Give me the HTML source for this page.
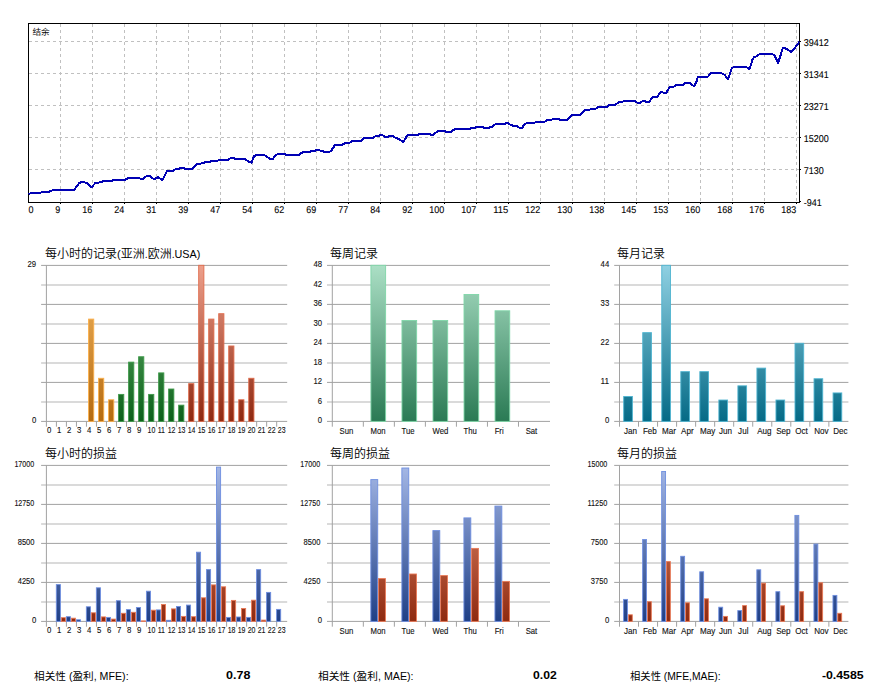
<!DOCTYPE html>
<html lang="zh"><head><meta charset="utf-8"><title>Report</title>
<style>html,body{margin:0;padding:0;background:#fff;}body{width:882px;height:692px;overflow:hidden;}svg{display:block;}</style>
</head><body>
<svg width="882" height="692" viewBox="0 0 882 692">
<rect width="882" height="692" fill="#fff"/>
<defs>
<linearGradient id="gOr" gradientUnits="userSpaceOnUse" x1="0" y1="265.4" x2="0" y2="421.4"><stop offset="0" stop-color="#f5b963"/><stop offset="1" stop-color="#b46a10"/></linearGradient>
<linearGradient id="gGr" gradientUnits="userSpaceOnUse" x1="0" y1="265.4" x2="0" y2="421.4"><stop offset="0" stop-color="#74c07a"/><stop offset="1" stop-color="#0c5f1a"/></linearGradient>
<linearGradient id="gRd" gradientUnits="userSpaceOnUse" x1="0" y1="265.4" x2="0" y2="421.4"><stop offset="0" stop-color="#eda08c"/><stop offset="1" stop-color="#8e2810"/></linearGradient>
<linearGradient id="gWk" gradientUnits="userSpaceOnUse" x1="0" y1="265.4" x2="0" y2="421.4"><stop offset="0" stop-color="#abdfc5"/><stop offset="1" stop-color="#2a7a54"/></linearGradient>
<linearGradient id="gMo" gradientUnits="userSpaceOnUse" x1="0" y1="265.4" x2="0" y2="421.4"><stop offset="0" stop-color="#8fd0e2"/><stop offset="1" stop-color="#056a86"/></linearGradient>
<linearGradient id="gBl" gradientUnits="userSpaceOnUse" x1="0" y1="465.4" x2="0" y2="621.4"><stop offset="0" stop-color="#a5b8e6"/><stop offset="1" stop-color="#1f3f86"/></linearGradient>
<linearGradient id="gLs" gradientUnits="userSpaceOnUse" x1="0" y1="465.4" x2="0" y2="621.4"><stop offset="0" stop-color="#f09a7c"/><stop offset="1" stop-color="#8e2a10"/></linearGradient>
</defs>
<g shape-rendering="crispEdges">
<path d="M60.5 24V202M92.5 24V202M124.5 24V202M156.5 24V202M188.5 24V202M220.5 24V202M252.5 24V202M284.5 24V202M316.5 24V202M348.5 24V202M380.5 24V202M412.5 24V202M444.5 24V202M476.5 24V202M508.5 24V202M540.5 24V202M572.5 24V202M604.5 24V202M636.5 24V202M668.5 24V202M700.5 24V202M732.5 24V202M764.5 24V202M796.5 24V202" stroke="#c0c0c0" stroke-width="1" stroke-dasharray="3 3" fill="none"/>
<path d="M29 41.5H799M29 73.5H799M29 105.5H799M29 137.5H799M29 169.5H799" stroke="#c0c0c0" stroke-width="1" stroke-dasharray="3 3" fill="none"/>
<rect x="28.5" y="23.5" width="771" height="179" fill="none" stroke="#000" stroke-width="1"/>
<path d="M60.5 203v1M92.5 203v1M124.5 203v1M156.5 203v1M188.5 203v1M220.5 203v1M252.5 203v1M284.5 203v1M316.5 203v1M348.5 203v1M380.5 203v1M412.5 203v1M444.5 203v1M476.5 203v1M508.5 203v1M540.5 203v1M572.5 203v1M604.5 203v1M636.5 203v1M668.5 203v1M700.5 203v1M732.5 203v1M764.5 203v1M796.5 203v1M800 41.5h1M800 73.5h1M800 105.5h1M800 137.5h1M800 169.5h1M800 201.5h1" stroke="#000" stroke-width="1" fill="none"/>
</g>
<polyline points="28.4,193.9 33.0,193.0 40.5,192.8 41.8,192.0 49.3,191.6 50.5,190.9 53.6,190.1 74.2,190.0 79.2,183.0 81.7,182.0 84.2,182.2 87.3,183.4 91.6,187.2 95.4,183.0 99.8,182.4 103.7,181.1 111.8,180.8 113.1,180.1 124.9,180.0 128.0,178.1 139.3,178.0 140.5,179.0 143.0,179.0 144.9,177.0 147.4,176.0 149.9,176.1 153.6,178.9 155.5,178.6 158.0,177.1 162.3,180.2 166.7,171.4 168.6,170.9 172.9,170.9 176.0,169.0 178.5,168.8 181.0,168.0 183.5,168.0 185.4,169.0 192.3,169.0 196.6,164.3 198.5,163.8 202.5,163.3 205.6,162.1 210.0,161.8 211.2,161.0 217.5,161.0 218.7,160.1 228.0,160.0 230.5,158.2 233.7,158.1 234.9,159.0 244.9,159.0 249.3,162.0 251.4,162.7 254.2,156.1 256.7,154.9 264.2,154.9 267.3,157.1 270.4,159.0 272.9,158.9 275.4,155.1 277.9,154.0 284.8,154.0 286.0,154.9 299.1,154.9 301.0,153.0 304.1,152.0 310.0,151.8 311.2,151.0 315.0,150.7 316.2,150.0 319.3,150.0 320.6,150.8 323.1,151.1 324.3,152.0 329.3,152.0 331.2,150.8 334.9,145.1 341.8,145.0 343.6,143.9 345.5,143.0 349.3,142.9 352.4,141.0 361.1,140.9 364.2,138.2 372.9,138.0 375.4,136.1 378.6,135.9 380.4,134.9 382.3,135.1 384.8,136.7 387.9,136.9 389.2,135.9 392.3,136.0 395.4,137.6 398.5,139.0 403.5,142.0 406.9,135.7 408.7,135.0 418.1,135.0 419.3,134.0 429.9,134.0 431.2,134.8 433.0,134.8 434.9,133.0 438.7,131.0 444.9,131.0 446.1,132.0 451.1,132.0 453.0,130.1 455.5,129.0 469.8,129.0 471.1,128.0 474.8,127.9 476.7,127.0 482.9,127.0 484.2,127.9 489.2,127.9 490.4,127.1 492.3,126.9 494.1,124.9 496.0,124.0 505.0,124.0 506.2,123.0 508.1,123.1 510.6,124.8 513.7,125.9 516.8,126.2 520.0,127.9 522.4,127.9 524.3,124.2 526.8,123.0 534.3,123.0 536.2,122.0 544.3,122.0 546.8,120.0 551.1,119.8 553.0,119.0 558.6,119.0 559.9,119.8 567.3,119.8 571.7,115.1 579.8,115.0 584.8,109.9 589.2,109.9 591.0,108.9 595.4,108.9 597.9,107.0 606.9,106.9 608.7,105.0 615.0,105.0 616.8,103.8 618.7,102.1 622.4,102.0 623.7,101.0 634.9,101.0 637.4,102.8 639.9,103.0 642.4,101.1 644.9,101.0 646.1,102.0 649.3,102.0 652.4,97.0 657.4,97.0 660.5,92.0 662.3,92.1 663.6,93.0 666.1,93.0 669.8,87.1 673.6,86.7 676.1,85.0 682.9,85.0 685.4,83.0 690.4,83.0 692.3,85.1 694.1,86.0 696.0,83.0 697.9,77.0 707.5,77.0 711.2,73.0 721.2,73.0 724.3,74.6 728.1,79.0 731.8,68.2 734.3,67.0 746.1,67.0 749.3,68.9 751.0,65.0 752.4,59.5 754.0,57.3 756.5,56.2 759.9,54.0 772.3,54.0 774.4,55.3 778.2,62.8 782.9,48.0 784.8,48.0 791.6,52.0 799.5,41.8" fill="none" stroke="#0000b4" stroke-width="2" stroke-linejoin="round" shape-rendering="crispEdges"/>
<g font-family='"Liberation Sans", "Noto Sans CJK SC", sans-serif' text-rendering="geometricPrecision">
<text x="28.6" y="213" font-size="9.8" textLength="5" lengthAdjust="spacingAndGlyphs" fill="#000" stroke="#000" stroke-width="0.1">0</text>
<text x="60.3" y="213" font-size="9.8" text-anchor="end" textLength="5" lengthAdjust="spacingAndGlyphs" fill="#000" stroke="#000" stroke-width="0.1">9</text>
<text x="92.3" y="213" font-size="9.8" text-anchor="end" textLength="10" lengthAdjust="spacingAndGlyphs" fill="#000" stroke="#000" stroke-width="0.1">16</text>
<text x="124.3" y="213" font-size="9.8" text-anchor="end" textLength="10" lengthAdjust="spacingAndGlyphs" fill="#000" stroke="#000" stroke-width="0.1">24</text>
<text x="156.3" y="213" font-size="9.8" text-anchor="end" textLength="10" lengthAdjust="spacingAndGlyphs" fill="#000" stroke="#000" stroke-width="0.1">31</text>
<text x="188.3" y="213" font-size="9.8" text-anchor="end" textLength="10" lengthAdjust="spacingAndGlyphs" fill="#000" stroke="#000" stroke-width="0.1">39</text>
<text x="220.3" y="213" font-size="9.8" text-anchor="end" textLength="10" lengthAdjust="spacingAndGlyphs" fill="#000" stroke="#000" stroke-width="0.1">47</text>
<text x="252.3" y="213" font-size="9.8" text-anchor="end" textLength="10" lengthAdjust="spacingAndGlyphs" fill="#000" stroke="#000" stroke-width="0.1">54</text>
<text x="284.3" y="213" font-size="9.8" text-anchor="end" textLength="10" lengthAdjust="spacingAndGlyphs" fill="#000" stroke="#000" stroke-width="0.1">62</text>
<text x="316.3" y="213" font-size="9.8" text-anchor="end" textLength="10" lengthAdjust="spacingAndGlyphs" fill="#000" stroke="#000" stroke-width="0.1">69</text>
<text x="348.3" y="213" font-size="9.8" text-anchor="end" textLength="10" lengthAdjust="spacingAndGlyphs" fill="#000" stroke="#000" stroke-width="0.1">77</text>
<text x="380.3" y="213" font-size="9.8" text-anchor="end" textLength="10" lengthAdjust="spacingAndGlyphs" fill="#000" stroke="#000" stroke-width="0.1">84</text>
<text x="412.3" y="213" font-size="9.8" text-anchor="end" textLength="10" lengthAdjust="spacingAndGlyphs" fill="#000" stroke="#000" stroke-width="0.1">92</text>
<text x="444.3" y="213" font-size="9.8" text-anchor="end" textLength="15" lengthAdjust="spacingAndGlyphs" fill="#000" stroke="#000" stroke-width="0.1">100</text>
<text x="476.3" y="213" font-size="9.8" text-anchor="end" textLength="15" lengthAdjust="spacingAndGlyphs" fill="#000" stroke="#000" stroke-width="0.1">107</text>
<text x="508.3" y="213" font-size="9.8" text-anchor="end" textLength="15" lengthAdjust="spacingAndGlyphs" fill="#000" stroke="#000" stroke-width="0.1">115</text>
<text x="540.3" y="213" font-size="9.8" text-anchor="end" textLength="15" lengthAdjust="spacingAndGlyphs" fill="#000" stroke="#000" stroke-width="0.1">122</text>
<text x="572.3" y="213" font-size="9.8" text-anchor="end" textLength="15" lengthAdjust="spacingAndGlyphs" fill="#000" stroke="#000" stroke-width="0.1">130</text>
<text x="604.3" y="213" font-size="9.8" text-anchor="end" textLength="15" lengthAdjust="spacingAndGlyphs" fill="#000" stroke="#000" stroke-width="0.1">138</text>
<text x="636.3" y="213" font-size="9.8" text-anchor="end" textLength="15" lengthAdjust="spacingAndGlyphs" fill="#000" stroke="#000" stroke-width="0.1">145</text>
<text x="668.3" y="213" font-size="9.8" text-anchor="end" textLength="15" lengthAdjust="spacingAndGlyphs" fill="#000" stroke="#000" stroke-width="0.1">153</text>
<text x="700.3" y="213" font-size="9.8" text-anchor="end" textLength="15" lengthAdjust="spacingAndGlyphs" fill="#000" stroke="#000" stroke-width="0.1">160</text>
<text x="732.3" y="213" font-size="9.8" text-anchor="end" textLength="15" lengthAdjust="spacingAndGlyphs" fill="#000" stroke="#000" stroke-width="0.1">168</text>
<text x="764.3" y="213" font-size="9.8" text-anchor="end" textLength="15" lengthAdjust="spacingAndGlyphs" fill="#000" stroke="#000" stroke-width="0.1">176</text>
<text x="796.3" y="213" font-size="9.8" text-anchor="end" textLength="15" lengthAdjust="spacingAndGlyphs" fill="#000" stroke="#000" stroke-width="0.1">183</text>
<text x="803.8" y="46" font-size="9.9" textLength="25" lengthAdjust="spacingAndGlyphs" fill="#000" stroke="#000" stroke-width="0.1">39412</text>
<text x="803.8" y="78" font-size="9.9" textLength="25" lengthAdjust="spacingAndGlyphs" fill="#000" stroke="#000" stroke-width="0.1">31341</text>
<text x="803.8" y="110" font-size="9.9" textLength="25" lengthAdjust="spacingAndGlyphs" fill="#000" stroke="#000" stroke-width="0.1">23271</text>
<text x="803.8" y="142" font-size="9.9" textLength="25" lengthAdjust="spacingAndGlyphs" fill="#000" stroke="#000" stroke-width="0.1">15200</text>
<text x="803.8" y="174" font-size="9.9" textLength="20" lengthAdjust="spacingAndGlyphs" fill="#000" stroke="#000" stroke-width="0.1">7130</text>
<text x="803.8" y="206" font-size="9.9" textLength="18" lengthAdjust="spacingAndGlyphs" fill="#000" stroke="#000" stroke-width="0.1">-941</text>
<text x="32.5" y="35.3" font-size="8.6" fill="#000">结余</text>
</g>
<g font-family='"Liberation Sans", "Noto Sans CJK SC", sans-serif'>
<path d="M41.10 265.40H287.20" stroke="#a2a2a2" stroke-width="1.0"/>
<path d="M41.10 284.90H287.20" stroke="#cecece" stroke-width="1.5"/>
<path d="M41.10 304.40H287.20" stroke="#a2a2a2" stroke-width="1.0"/>
<path d="M41.10 323.90H287.20" stroke="#cecece" stroke-width="1.5"/>
<path d="M41.10 343.40H287.20" stroke="#a2a2a2" stroke-width="1.0"/>
<path d="M41.10 362.90H287.20" stroke="#cecece" stroke-width="1.5"/>
<path d="M41.10 382.40H287.20" stroke="#a2a2a2" stroke-width="1.0"/>
<path d="M41.10 401.90H287.20" stroke="#cecece" stroke-width="1.5"/>
<path d="M41.10 421.40H287.20" stroke="#a2a2a2" stroke-width="1.0"/>
<path d="M46.40 265.40V426.70" stroke="#a2a2a2" stroke-width="1"/>
<path d="M56.41 421.40v5.3M66.42 421.40v5.3M76.44 421.40v5.3M86.45 421.40v5.3M96.46 421.40v5.3M106.47 421.40v5.3M116.49 421.40v5.3M126.50 421.40v5.3M136.51 421.40v5.3M146.53 421.40v5.3M156.54 421.40v5.3M166.55 421.40v5.3M176.56 421.40v5.3M186.57 421.40v5.3M196.59 421.40v5.3M206.60 421.40v5.3M216.61 421.40v5.3M226.62 421.40v5.3M236.64 421.40v5.3M246.65 421.40v5.3M256.66 421.40v5.3M266.67 421.40v5.3M276.69 421.40v5.3" stroke="#a2a2a2" stroke-width="1"/>
<text transform="translate(36.20 423.30) scale(0.88 1)" font-size="8.8" text-anchor="end" fill="#111" stroke="#111" stroke-width="0.12">0</text>
<text x="36.10" y="267.30" font-size="8.8" text-anchor="end" textLength="8.6" lengthAdjust="spacingAndGlyphs" fill="#111" stroke="#111" stroke-width="0.12">29</text>
<text transform="translate(47.00 433.30) scale(0.88 1)" font-size="8.8" text-anchor="start" fill="#111" stroke="#111" stroke-width="0.12">0</text>
<text transform="translate(57.01 433.30) scale(0.88 1)" font-size="8.8" text-anchor="start" fill="#111" stroke="#111" stroke-width="0.12">1</text>
<text transform="translate(67.02 433.30) scale(0.88 1)" font-size="8.8" text-anchor="start" fill="#111" stroke="#111" stroke-width="0.12">2</text>
<text transform="translate(77.04 433.30) scale(0.88 1)" font-size="8.8" text-anchor="start" fill="#111" stroke="#111" stroke-width="0.12">3</text>
<text transform="translate(87.05 433.30) scale(0.88 1)" font-size="8.8" text-anchor="start" fill="#111" stroke="#111" stroke-width="0.12">4</text>
<text transform="translate(97.06 433.30) scale(0.88 1)" font-size="8.8" text-anchor="start" fill="#111" stroke="#111" stroke-width="0.12">5</text>
<text transform="translate(107.07 433.30) scale(0.88 1)" font-size="8.8" text-anchor="start" fill="#111" stroke="#111" stroke-width="0.12">6</text>
<text transform="translate(117.09 433.30) scale(0.88 1)" font-size="8.8" text-anchor="start" fill="#111" stroke="#111" stroke-width="0.12">7</text>
<text transform="translate(127.10 433.30) scale(0.88 1)" font-size="8.8" text-anchor="start" fill="#111" stroke="#111" stroke-width="0.12">8</text>
<text transform="translate(137.11 433.30) scale(0.88 1)" font-size="8.8" text-anchor="start" fill="#111" stroke="#111" stroke-width="0.12">9</text>
<text transform="translate(147.62 433.30) scale(0.79 1)" font-size="8.8" text-anchor="start" fill="#111" stroke="#111" stroke-width="0.12">10</text>
<text transform="translate(157.64 433.30) scale(0.79 1)" font-size="8.8" text-anchor="start" fill="#111" stroke="#111" stroke-width="0.12">11</text>
<text transform="translate(167.65 433.30) scale(0.79 1)" font-size="8.8" text-anchor="start" fill="#111" stroke="#111" stroke-width="0.12">12</text>
<text transform="translate(177.66 433.30) scale(0.79 1)" font-size="8.8" text-anchor="start" fill="#111" stroke="#111" stroke-width="0.12">13</text>
<text transform="translate(187.67 433.30) scale(0.79 1)" font-size="8.8" text-anchor="start" fill="#111" stroke="#111" stroke-width="0.12">14</text>
<text transform="translate(197.69 433.30) scale(0.79 1)" font-size="8.8" text-anchor="start" fill="#111" stroke="#111" stroke-width="0.12">15</text>
<text transform="translate(207.70 433.30) scale(0.79 1)" font-size="8.8" text-anchor="start" fill="#111" stroke="#111" stroke-width="0.12">16</text>
<text transform="translate(217.71 433.30) scale(0.79 1)" font-size="8.8" text-anchor="start" fill="#111" stroke="#111" stroke-width="0.12">17</text>
<text transform="translate(227.72 433.30) scale(0.79 1)" font-size="8.8" text-anchor="start" fill="#111" stroke="#111" stroke-width="0.12">18</text>
<text transform="translate(237.74 433.30) scale(0.79 1)" font-size="8.8" text-anchor="start" fill="#111" stroke="#111" stroke-width="0.12">19</text>
<text transform="translate(247.75 433.30) scale(0.79 1)" font-size="8.8" text-anchor="start" fill="#111" stroke="#111" stroke-width="0.12">20</text>
<text transform="translate(257.76 433.30) scale(0.79 1)" font-size="8.8" text-anchor="start" fill="#111" stroke="#111" stroke-width="0.12">21</text>
<text transform="translate(267.77 433.30) scale(0.79 1)" font-size="8.8" text-anchor="start" fill="#111" stroke="#111" stroke-width="0.12">22</text>
<text transform="translate(277.79 433.30) scale(0.79 1)" font-size="8.8" text-anchor="start" fill="#111" stroke="#111" stroke-width="0.12">23</text>
<text x="45" y="258.4" font-size="12" font-weight="350" fill="#000">每小时的记录<tspan font-size="11">(</tspan>亚洲<tspan font-size="10.5">.</tspan>欧洲<tspan font-size="10.5">.</tspan><tspan font-size="10.8">USA)</tspan></text>
<rect x="88.55" y="319.09" width="5.20" height="102.31" fill="url(#gOr)" stroke="#fbb04c" stroke-width="0.9"/>
<rect x="98.56" y="378.27" width="5.20" height="43.13" fill="url(#gOr)" stroke="#fbb04c" stroke-width="0.9"/>
<rect x="108.58" y="399.78" width="5.20" height="21.62" fill="url(#gOr)" stroke="#fbb04c" stroke-width="0.9"/>
<rect x="118.59" y="394.40" width="5.20" height="27.00" fill="url(#gGr)" stroke="#3f9a4a" stroke-width="0.9"/>
<rect x="128.60" y="362.13" width="5.20" height="59.27" fill="url(#gGr)" stroke="#3f9a4a" stroke-width="0.9"/>
<rect x="138.61" y="356.75" width="5.20" height="64.65" fill="url(#gGr)" stroke="#3f9a4a" stroke-width="0.9"/>
<rect x="148.62" y="394.40" width="5.20" height="27.00" fill="url(#gGr)" stroke="#3f9a4a" stroke-width="0.9"/>
<rect x="158.64" y="372.89" width="5.20" height="48.51" fill="url(#gGr)" stroke="#3f9a4a" stroke-width="0.9"/>
<rect x="168.65" y="389.02" width="5.20" height="32.38" fill="url(#gGr)" stroke="#3f9a4a" stroke-width="0.9"/>
<rect x="178.66" y="405.16" width="5.20" height="16.24" fill="url(#gGr)" stroke="#3f9a4a" stroke-width="0.9"/>
<rect x="188.67" y="383.64" width="5.20" height="37.76" fill="url(#gRd)" stroke="#e06c4c" stroke-width="0.9"/>
<rect x="198.69" y="265.30" width="5.20" height="156.10" fill="url(#gRd)" stroke="#e06c4c" stroke-width="0.9"/>
<rect x="208.70" y="319.09" width="5.20" height="102.31" fill="url(#gRd)" stroke="#e06c4c" stroke-width="0.9"/>
<rect x="218.71" y="313.71" width="5.20" height="107.69" fill="url(#gRd)" stroke="#e06c4c" stroke-width="0.9"/>
<rect x="228.72" y="345.99" width="5.20" height="75.41" fill="url(#gRd)" stroke="#e06c4c" stroke-width="0.9"/>
<rect x="238.74" y="399.78" width="5.20" height="21.62" fill="url(#gRd)" stroke="#e06c4c" stroke-width="0.9"/>
<rect x="248.75" y="378.27" width="5.20" height="43.13" fill="url(#gRd)" stroke="#e06c4c" stroke-width="0.9"/>
<path d="M327.00 265.40H550.00" stroke="#a2a2a2" stroke-width="1.0"/>
<path d="M327.00 284.90H550.00" stroke="#cecece" stroke-width="1.5"/>
<path d="M327.00 304.40H550.00" stroke="#a2a2a2" stroke-width="1.0"/>
<path d="M327.00 323.90H550.00" stroke="#cecece" stroke-width="1.5"/>
<path d="M327.00 343.40H550.00" stroke="#a2a2a2" stroke-width="1.0"/>
<path d="M327.00 362.90H550.00" stroke="#cecece" stroke-width="1.5"/>
<path d="M327.00 382.40H550.00" stroke="#a2a2a2" stroke-width="1.0"/>
<path d="M327.00 401.90H550.00" stroke="#cecece" stroke-width="1.5"/>
<path d="M327.00 421.40H550.00" stroke="#a2a2a2" stroke-width="1.0"/>
<path d="M332.30 265.40V426.70" stroke="#a2a2a2" stroke-width="1"/>
<path d="M363.33 421.40v5.3M394.36 421.40v5.3M425.39 421.40v5.3M456.41 421.40v5.3M487.44 421.40v5.3M518.47 421.40v5.3" stroke="#a2a2a2" stroke-width="1"/>
<text transform="translate(322.10 423.30) scale(0.88 1)" font-size="8.8" text-anchor="end" fill="#111" stroke="#111" stroke-width="0.12">0</text>
<text transform="translate(322.10 403.80) scale(0.88 1)" font-size="8.8" text-anchor="end" fill="#111" stroke="#111" stroke-width="0.12">6</text>
<text x="322.00" y="384.30" font-size="8.8" text-anchor="end" textLength="8.6" lengthAdjust="spacingAndGlyphs" fill="#111" stroke="#111" stroke-width="0.12">12</text>
<text x="322.00" y="364.80" font-size="8.8" text-anchor="end" textLength="8.6" lengthAdjust="spacingAndGlyphs" fill="#111" stroke="#111" stroke-width="0.12">18</text>
<text x="322.00" y="345.30" font-size="8.8" text-anchor="end" textLength="8.6" lengthAdjust="spacingAndGlyphs" fill="#111" stroke="#111" stroke-width="0.12">24</text>
<text x="322.00" y="325.80" font-size="8.8" text-anchor="end" textLength="8.6" lengthAdjust="spacingAndGlyphs" fill="#111" stroke="#111" stroke-width="0.12">30</text>
<text x="322.00" y="306.30" font-size="8.8" text-anchor="end" textLength="8.6" lengthAdjust="spacingAndGlyphs" fill="#111" stroke="#111" stroke-width="0.12">36</text>
<text x="322.00" y="286.80" font-size="8.8" text-anchor="end" textLength="8.6" lengthAdjust="spacingAndGlyphs" fill="#111" stroke="#111" stroke-width="0.12">42</text>
<text x="322.00" y="267.30" font-size="8.8" text-anchor="end" textLength="8.6" lengthAdjust="spacingAndGlyphs" fill="#111" stroke="#111" stroke-width="0.12">48</text>
<text transform="translate(339.50 433.60) scale(0.88 1)" font-size="8.8" text-anchor="start" fill="#111" stroke="#111" stroke-width="0.12">Sun</text>
<text transform="translate(370.53 433.60) scale(0.88 1)" font-size="8.8" text-anchor="start" fill="#111" stroke="#111" stroke-width="0.12">Mon</text>
<text transform="translate(401.56 433.60) scale(0.88 1)" font-size="8.8" text-anchor="start" fill="#111" stroke="#111" stroke-width="0.12">Tue</text>
<text transform="translate(432.59 433.60) scale(0.88 1)" font-size="8.8" text-anchor="start" fill="#111" stroke="#111" stroke-width="0.12">Wed</text>
<text transform="translate(463.61 433.60) scale(0.88 1)" font-size="8.8" text-anchor="start" fill="#111" stroke="#111" stroke-width="0.12">Thu</text>
<text transform="translate(494.64 433.60) scale(0.88 1)" font-size="8.8" text-anchor="start" fill="#111" stroke="#111" stroke-width="0.12">Fri</text>
<text transform="translate(525.67 433.60) scale(0.88 1)" font-size="8.8" text-anchor="start" fill="#111" stroke="#111" stroke-width="0.12">Sat</text>
<text x="330" y="258.4" font-size="12" font-weight="350" fill="#000">每周记录</text>
<rect x="370.93" y="265.30" width="14.70" height="156.10" fill="url(#gWk)" stroke="#7fd6a8" stroke-width="0.9"/>
<rect x="401.96" y="320.55" width="14.70" height="100.85" fill="url(#gWk)" stroke="#7fd6a8" stroke-width="0.9"/>
<rect x="432.99" y="320.55" width="14.70" height="100.85" fill="url(#gWk)" stroke="#7fd6a8" stroke-width="0.9"/>
<rect x="464.01" y="294.55" width="14.70" height="126.85" fill="url(#gWk)" stroke="#7fd6a8" stroke-width="0.9"/>
<rect x="495.04" y="310.80" width="14.70" height="110.60" fill="url(#gWk)" stroke="#7fd6a8" stroke-width="0.9"/>
<path d="M614.20 265.40H848.40" stroke="#a2a2a2" stroke-width="1.0"/>
<path d="M614.20 284.90H848.40" stroke="#cecece" stroke-width="1.5"/>
<path d="M614.20 304.40H848.40" stroke="#a2a2a2" stroke-width="1.0"/>
<path d="M614.20 323.90H848.40" stroke="#cecece" stroke-width="1.5"/>
<path d="M614.20 343.40H848.40" stroke="#a2a2a2" stroke-width="1.0"/>
<path d="M614.20 362.90H848.40" stroke="#cecece" stroke-width="1.5"/>
<path d="M614.20 382.40H848.40" stroke="#a2a2a2" stroke-width="1.0"/>
<path d="M614.20 401.90H848.40" stroke="#cecece" stroke-width="1.5"/>
<path d="M614.20 421.40H848.40" stroke="#a2a2a2" stroke-width="1.0"/>
<path d="M619.50 265.40V426.70" stroke="#a2a2a2" stroke-width="1"/>
<path d="M638.53 421.40v5.3M657.57 421.40v5.3M676.60 421.40v5.3M695.63 421.40v5.3M714.67 421.40v5.3M733.70 421.40v5.3M752.73 421.40v5.3M771.77 421.40v5.3M790.80 421.40v5.3M809.83 421.40v5.3M828.87 421.40v5.3" stroke="#a2a2a2" stroke-width="1"/>
<text transform="translate(609.30 423.30) scale(0.88 1)" font-size="8.8" text-anchor="end" fill="#111" stroke="#111" stroke-width="0.12">0</text>
<text x="609.20" y="384.30" font-size="8.8" text-anchor="end" textLength="8.6" lengthAdjust="spacingAndGlyphs" fill="#111" stroke="#111" stroke-width="0.12">11</text>
<text x="609.20" y="345.30" font-size="8.8" text-anchor="end" textLength="8.6" lengthAdjust="spacingAndGlyphs" fill="#111" stroke="#111" stroke-width="0.12">22</text>
<text x="609.20" y="306.30" font-size="8.8" text-anchor="end" textLength="8.6" lengthAdjust="spacingAndGlyphs" fill="#111" stroke="#111" stroke-width="0.12">33</text>
<text x="609.20" y="267.30" font-size="8.8" text-anchor="end" textLength="8.6" lengthAdjust="spacingAndGlyphs" fill="#111" stroke="#111" stroke-width="0.12">44</text>
<text transform="translate(623.90 433.60) scale(0.92 1)" font-size="8.8" text-anchor="start" fill="#111" stroke="#111" stroke-width="0.12">Jan</text>
<text transform="translate(642.93 433.60) scale(0.92 1)" font-size="8.8" text-anchor="start" fill="#111" stroke="#111" stroke-width="0.12">Feb</text>
<text transform="translate(661.97 433.60) scale(0.92 1)" font-size="8.8" text-anchor="start" fill="#111" stroke="#111" stroke-width="0.12">Mar</text>
<text transform="translate(681.00 433.60) scale(0.92 1)" font-size="8.8" text-anchor="start" fill="#111" stroke="#111" stroke-width="0.12">Apr</text>
<text transform="translate(700.03 433.60) scale(0.92 1)" font-size="8.8" text-anchor="start" fill="#111" stroke="#111" stroke-width="0.12">May</text>
<text transform="translate(719.07 433.60) scale(0.92 1)" font-size="8.8" text-anchor="start" fill="#111" stroke="#111" stroke-width="0.12">Jun</text>
<text transform="translate(738.10 433.60) scale(0.92 1)" font-size="8.8" text-anchor="start" fill="#111" stroke="#111" stroke-width="0.12">Jul</text>
<text transform="translate(757.13 433.60) scale(0.92 1)" font-size="8.8" text-anchor="start" fill="#111" stroke="#111" stroke-width="0.12">Aug</text>
<text transform="translate(776.17 433.60) scale(0.92 1)" font-size="8.8" text-anchor="start" fill="#111" stroke="#111" stroke-width="0.12">Sep</text>
<text transform="translate(795.20 433.60) scale(0.92 1)" font-size="8.8" text-anchor="start" fill="#111" stroke="#111" stroke-width="0.12">Oct</text>
<text transform="translate(814.23 433.60) scale(0.92 1)" font-size="8.8" text-anchor="start" fill="#111" stroke="#111" stroke-width="0.12">Nov</text>
<text transform="translate(833.27 433.60) scale(0.92 1)" font-size="8.8" text-anchor="start" fill="#111" stroke="#111" stroke-width="0.12">Dec</text>
<text x="617" y="258.4" font-size="12" font-weight="350" fill="#000">每月记录</text>
<rect x="623.70" y="396.48" width="8.70" height="24.92" fill="url(#gMo)" stroke="#4fb4d0" stroke-width="0.9"/>
<rect x="642.73" y="332.66" width="8.70" height="88.74" fill="url(#gMo)" stroke="#4fb4d0" stroke-width="0.9"/>
<rect x="661.77" y="265.30" width="8.70" height="156.10" fill="url(#gMo)" stroke="#4fb4d0" stroke-width="0.9"/>
<rect x="680.80" y="371.66" width="8.70" height="49.74" fill="url(#gMo)" stroke="#4fb4d0" stroke-width="0.9"/>
<rect x="699.83" y="371.66" width="8.70" height="49.74" fill="url(#gMo)" stroke="#4fb4d0" stroke-width="0.9"/>
<rect x="718.87" y="400.03" width="8.70" height="21.37" fill="url(#gMo)" stroke="#4fb4d0" stroke-width="0.9"/>
<rect x="737.90" y="385.85" width="8.70" height="35.55" fill="url(#gMo)" stroke="#4fb4d0" stroke-width="0.9"/>
<rect x="756.93" y="368.12" width="8.70" height="53.28" fill="url(#gMo)" stroke="#4fb4d0" stroke-width="0.9"/>
<rect x="775.97" y="400.03" width="8.70" height="21.37" fill="url(#gMo)" stroke="#4fb4d0" stroke-width="0.9"/>
<rect x="795.00" y="343.30" width="8.70" height="78.10" fill="url(#gMo)" stroke="#4fb4d0" stroke-width="0.9"/>
<rect x="814.03" y="378.75" width="8.70" height="42.65" fill="url(#gMo)" stroke="#4fb4d0" stroke-width="0.9"/>
<rect x="833.07" y="392.94" width="8.70" height="28.46" fill="url(#gMo)" stroke="#4fb4d0" stroke-width="0.9"/>
<path d="M41.10 465.40H287.20" stroke="#a2a2a2" stroke-width="1.0"/>
<path d="M41.10 484.90H287.20" stroke="#cecece" stroke-width="1.5"/>
<path d="M41.10 504.40H287.20" stroke="#a2a2a2" stroke-width="1.0"/>
<path d="M41.10 523.90H287.20" stroke="#cecece" stroke-width="1.5"/>
<path d="M41.10 543.40H287.20" stroke="#a2a2a2" stroke-width="1.0"/>
<path d="M41.10 562.90H287.20" stroke="#cecece" stroke-width="1.5"/>
<path d="M41.10 582.40H287.20" stroke="#a2a2a2" stroke-width="1.0"/>
<path d="M41.10 601.90H287.20" stroke="#cecece" stroke-width="1.5"/>
<path d="M41.10 621.40H287.20" stroke="#a2a2a2" stroke-width="1.0"/>
<path d="M46.40 465.40V626.70" stroke="#a2a2a2" stroke-width="1"/>
<path d="M56.41 621.40v5.3M66.42 621.40v5.3M76.44 621.40v5.3M86.45 621.40v5.3M96.46 621.40v5.3M106.47 621.40v5.3M116.49 621.40v5.3M126.50 621.40v5.3M136.51 621.40v5.3M146.53 621.40v5.3M156.54 621.40v5.3M166.55 621.40v5.3M176.56 621.40v5.3M186.57 621.40v5.3M196.59 621.40v5.3M206.60 621.40v5.3M216.61 621.40v5.3M226.62 621.40v5.3M236.64 621.40v5.3M246.65 621.40v5.3M256.66 621.40v5.3M266.67 621.40v5.3M276.69 621.40v5.3" stroke="#a2a2a2" stroke-width="1"/>
<text transform="translate(36.20 623.30) scale(0.88 1)" font-size="8.8" text-anchor="end" fill="#111" stroke="#111" stroke-width="0.12">0</text>
<text x="34.50" y="584.30" font-size="8.8" text-anchor="end" textLength="16.8" lengthAdjust="spacingAndGlyphs" fill="#111" stroke="#111" stroke-width="0.12">4250</text>
<text x="34.50" y="545.30" font-size="8.8" text-anchor="end" textLength="16.8" lengthAdjust="spacingAndGlyphs" fill="#111" stroke="#111" stroke-width="0.12">8500</text>
<text x="34.20" y="506.30" font-size="8.8" text-anchor="end" textLength="19.8" lengthAdjust="spacingAndGlyphs" fill="#111" stroke="#111" stroke-width="0.12">12750</text>
<text x="34.20" y="467.30" font-size="8.8" text-anchor="end" textLength="19.8" lengthAdjust="spacingAndGlyphs" fill="#111" stroke="#111" stroke-width="0.12">17000</text>
<text transform="translate(47.00 633.30) scale(0.88 1)" font-size="8.8" text-anchor="start" fill="#111" stroke="#111" stroke-width="0.12">0</text>
<text transform="translate(57.01 633.30) scale(0.88 1)" font-size="8.8" text-anchor="start" fill="#111" stroke="#111" stroke-width="0.12">1</text>
<text transform="translate(67.02 633.30) scale(0.88 1)" font-size="8.8" text-anchor="start" fill="#111" stroke="#111" stroke-width="0.12">2</text>
<text transform="translate(77.04 633.30) scale(0.88 1)" font-size="8.8" text-anchor="start" fill="#111" stroke="#111" stroke-width="0.12">3</text>
<text transform="translate(87.05 633.30) scale(0.88 1)" font-size="8.8" text-anchor="start" fill="#111" stroke="#111" stroke-width="0.12">4</text>
<text transform="translate(97.06 633.30) scale(0.88 1)" font-size="8.8" text-anchor="start" fill="#111" stroke="#111" stroke-width="0.12">5</text>
<text transform="translate(107.07 633.30) scale(0.88 1)" font-size="8.8" text-anchor="start" fill="#111" stroke="#111" stroke-width="0.12">6</text>
<text transform="translate(117.09 633.30) scale(0.88 1)" font-size="8.8" text-anchor="start" fill="#111" stroke="#111" stroke-width="0.12">7</text>
<text transform="translate(127.10 633.30) scale(0.88 1)" font-size="8.8" text-anchor="start" fill="#111" stroke="#111" stroke-width="0.12">8</text>
<text transform="translate(137.11 633.30) scale(0.88 1)" font-size="8.8" text-anchor="start" fill="#111" stroke="#111" stroke-width="0.12">9</text>
<text transform="translate(147.62 633.30) scale(0.79 1)" font-size="8.8" text-anchor="start" fill="#111" stroke="#111" stroke-width="0.12">10</text>
<text transform="translate(157.64 633.30) scale(0.79 1)" font-size="8.8" text-anchor="start" fill="#111" stroke="#111" stroke-width="0.12">11</text>
<text transform="translate(167.65 633.30) scale(0.79 1)" font-size="8.8" text-anchor="start" fill="#111" stroke="#111" stroke-width="0.12">12</text>
<text transform="translate(177.66 633.30) scale(0.79 1)" font-size="8.8" text-anchor="start" fill="#111" stroke="#111" stroke-width="0.12">13</text>
<text transform="translate(187.67 633.30) scale(0.79 1)" font-size="8.8" text-anchor="start" fill="#111" stroke="#111" stroke-width="0.12">14</text>
<text transform="translate(197.69 633.30) scale(0.79 1)" font-size="8.8" text-anchor="start" fill="#111" stroke="#111" stroke-width="0.12">15</text>
<text transform="translate(207.70 633.30) scale(0.79 1)" font-size="8.8" text-anchor="start" fill="#111" stroke="#111" stroke-width="0.12">16</text>
<text transform="translate(217.71 633.30) scale(0.79 1)" font-size="8.8" text-anchor="start" fill="#111" stroke="#111" stroke-width="0.12">17</text>
<text transform="translate(227.72 633.30) scale(0.79 1)" font-size="8.8" text-anchor="start" fill="#111" stroke="#111" stroke-width="0.12">18</text>
<text transform="translate(237.74 633.30) scale(0.79 1)" font-size="8.8" text-anchor="start" fill="#111" stroke="#111" stroke-width="0.12">19</text>
<text transform="translate(247.75 633.30) scale(0.79 1)" font-size="8.8" text-anchor="start" fill="#111" stroke="#111" stroke-width="0.12">20</text>
<text transform="translate(257.76 633.30) scale(0.79 1)" font-size="8.8" text-anchor="start" fill="#111" stroke="#111" stroke-width="0.12">21</text>
<text transform="translate(267.77 633.30) scale(0.79 1)" font-size="8.8" text-anchor="start" fill="#111" stroke="#111" stroke-width="0.12">22</text>
<text transform="translate(277.79 633.30) scale(0.79 1)" font-size="8.8" text-anchor="start" fill="#111" stroke="#111" stroke-width="0.12">23</text>
<text x="45" y="458.4" font-size="12" font-weight="350" fill="#000">每小时的损益</text>
<rect x="56.31" y="584.60" width="4.10" height="36.80" fill="url(#gBl)" stroke="#6f8fe0" stroke-width="0.9"/>
<rect x="66.33" y="616.70" width="4.10" height="4.70" fill="url(#gBl)" stroke="#6f8fe0" stroke-width="0.9"/>
<rect x="76.34" y="619.80" width="4.10" height="1.60" fill="url(#gBl)" stroke="#6f8fe0" stroke-width="0.9"/>
<rect x="86.35" y="606.80" width="4.10" height="14.60" fill="url(#gBl)" stroke="#6f8fe0" stroke-width="0.9"/>
<rect x="96.36" y="587.80" width="4.10" height="33.60" fill="url(#gBl)" stroke="#6f8fe0" stroke-width="0.9"/>
<rect x="106.38" y="617.40" width="4.10" height="4.00" fill="url(#gBl)" stroke="#6f8fe0" stroke-width="0.9"/>
<rect x="116.39" y="600.70" width="4.10" height="20.70" fill="url(#gBl)" stroke="#6f8fe0" stroke-width="0.9"/>
<rect x="126.40" y="609.60" width="4.10" height="11.80" fill="url(#gBl)" stroke="#6f8fe0" stroke-width="0.9"/>
<rect x="136.41" y="607.50" width="4.10" height="13.90" fill="url(#gBl)" stroke="#6f8fe0" stroke-width="0.9"/>
<rect x="146.43" y="591.20" width="4.10" height="30.20" fill="url(#gBl)" stroke="#6f8fe0" stroke-width="0.9"/>
<rect x="156.44" y="609.90" width="4.10" height="11.50" fill="url(#gBl)" stroke="#6f8fe0" stroke-width="0.9"/>
<rect x="166.45" y="620.30" width="4.10" height="1.10" fill="url(#gBl)" stroke="#6f8fe0" stroke-width="0.9"/>
<rect x="176.46" y="606.50" width="4.10" height="14.90" fill="url(#gBl)" stroke="#6f8fe0" stroke-width="0.9"/>
<rect x="186.47" y="605.10" width="4.10" height="16.30" fill="url(#gBl)" stroke="#6f8fe0" stroke-width="0.9"/>
<rect x="196.49" y="552.20" width="4.10" height="69.20" fill="url(#gBl)" stroke="#6f8fe0" stroke-width="0.9"/>
<rect x="206.50" y="569.60" width="4.10" height="51.80" fill="url(#gBl)" stroke="#6f8fe0" stroke-width="0.9"/>
<rect x="216.51" y="467.10" width="4.10" height="154.30" fill="url(#gBl)" stroke="#6f8fe0" stroke-width="0.9"/>
<rect x="226.53" y="617.40" width="4.10" height="4.00" fill="url(#gBl)" stroke="#6f8fe0" stroke-width="0.9"/>
<rect x="236.54" y="617.00" width="4.10" height="4.40" fill="url(#gBl)" stroke="#6f8fe0" stroke-width="0.9"/>
<rect x="246.55" y="617.40" width="4.10" height="4.00" fill="url(#gBl)" stroke="#6f8fe0" stroke-width="0.9"/>
<rect x="256.56" y="569.60" width="4.10" height="51.80" fill="url(#gBl)" stroke="#6f8fe0" stroke-width="0.9"/>
<rect x="266.57" y="592.40" width="4.10" height="29.00" fill="url(#gBl)" stroke="#6f8fe0" stroke-width="0.9"/>
<rect x="276.59" y="609.40" width="4.10" height="12.00" fill="url(#gBl)" stroke="#6f8fe0" stroke-width="0.9"/>
<rect x="61.31" y="617.70" width="4.10" height="3.70" fill="url(#gLs)" stroke="#e87a58" stroke-width="0.9"/>
<rect x="71.33" y="618.20" width="4.10" height="3.20" fill="url(#gLs)" stroke="#e87a58" stroke-width="0.9"/>
<rect x="91.35" y="612.80" width="4.10" height="8.60" fill="url(#gLs)" stroke="#e87a58" stroke-width="0.9"/>
<rect x="101.36" y="616.90" width="4.10" height="4.50" fill="url(#gLs)" stroke="#e87a58" stroke-width="0.9"/>
<rect x="111.38" y="619.10" width="4.10" height="2.30" fill="url(#gLs)" stroke="#e87a58" stroke-width="0.9"/>
<rect x="121.39" y="613.30" width="4.10" height="8.10" fill="url(#gLs)" stroke="#e87a58" stroke-width="0.9"/>
<rect x="131.40" y="612.30" width="4.10" height="9.10" fill="url(#gLs)" stroke="#e87a58" stroke-width="0.9"/>
<rect x="141.41" y="620.90" width="4.10" height="0.50" fill="url(#gLs)" stroke="#e87a58" stroke-width="0.9"/>
<rect x="151.43" y="610.20" width="4.10" height="11.20" fill="url(#gLs)" stroke="#e87a58" stroke-width="0.9"/>
<rect x="161.44" y="604.50" width="4.10" height="16.90" fill="url(#gLs)" stroke="#e87a58" stroke-width="0.9"/>
<rect x="171.45" y="608.90" width="4.10" height="12.50" fill="url(#gLs)" stroke="#e87a58" stroke-width="0.9"/>
<rect x="181.46" y="616.40" width="4.10" height="5.00" fill="url(#gLs)" stroke="#e87a58" stroke-width="0.9"/>
<rect x="191.47" y="616.70" width="4.10" height="4.70" fill="url(#gLs)" stroke="#e87a58" stroke-width="0.9"/>
<rect x="201.49" y="597.80" width="4.10" height="23.60" fill="url(#gLs)" stroke="#e87a58" stroke-width="0.9"/>
<rect x="211.50" y="584.90" width="4.10" height="36.50" fill="url(#gLs)" stroke="#e87a58" stroke-width="0.9"/>
<rect x="221.51" y="586.80" width="4.10" height="34.60" fill="url(#gLs)" stroke="#e87a58" stroke-width="0.9"/>
<rect x="231.53" y="600.40" width="4.10" height="21.00" fill="url(#gLs)" stroke="#e87a58" stroke-width="0.9"/>
<rect x="241.54" y="608.50" width="4.10" height="12.90" fill="url(#gLs)" stroke="#e87a58" stroke-width="0.9"/>
<rect x="251.55" y="600.20" width="4.10" height="21.20" fill="url(#gLs)" stroke="#e87a58" stroke-width="0.9"/>
<rect x="261.56" y="620.10" width="4.10" height="1.30" fill="url(#gLs)" stroke="#e87a58" stroke-width="0.9"/>
<path d="M327.00 465.40H550.00" stroke="#a2a2a2" stroke-width="1.0"/>
<path d="M327.00 484.90H550.00" stroke="#cecece" stroke-width="1.5"/>
<path d="M327.00 504.40H550.00" stroke="#a2a2a2" stroke-width="1.0"/>
<path d="M327.00 523.90H550.00" stroke="#cecece" stroke-width="1.5"/>
<path d="M327.00 543.40H550.00" stroke="#a2a2a2" stroke-width="1.0"/>
<path d="M327.00 562.90H550.00" stroke="#cecece" stroke-width="1.5"/>
<path d="M327.00 582.40H550.00" stroke="#a2a2a2" stroke-width="1.0"/>
<path d="M327.00 601.90H550.00" stroke="#cecece" stroke-width="1.5"/>
<path d="M327.00 621.40H550.00" stroke="#a2a2a2" stroke-width="1.0"/>
<path d="M332.30 465.40V626.70" stroke="#a2a2a2" stroke-width="1"/>
<path d="M363.33 621.40v5.3M394.36 621.40v5.3M425.39 621.40v5.3M456.41 621.40v5.3M487.44 621.40v5.3M518.47 621.40v5.3" stroke="#a2a2a2" stroke-width="1"/>
<text transform="translate(322.10 623.30) scale(0.88 1)" font-size="8.8" text-anchor="end" fill="#111" stroke="#111" stroke-width="0.12">0</text>
<text x="320.40" y="584.30" font-size="8.8" text-anchor="end" textLength="16.8" lengthAdjust="spacingAndGlyphs" fill="#111" stroke="#111" stroke-width="0.12">4250</text>
<text x="320.40" y="545.30" font-size="8.8" text-anchor="end" textLength="16.8" lengthAdjust="spacingAndGlyphs" fill="#111" stroke="#111" stroke-width="0.12">8500</text>
<text x="320.10" y="506.30" font-size="8.8" text-anchor="end" textLength="19.8" lengthAdjust="spacingAndGlyphs" fill="#111" stroke="#111" stroke-width="0.12">12750</text>
<text x="320.10" y="467.30" font-size="8.8" text-anchor="end" textLength="19.8" lengthAdjust="spacingAndGlyphs" fill="#111" stroke="#111" stroke-width="0.12">17000</text>
<text transform="translate(339.50 633.60) scale(0.88 1)" font-size="8.8" text-anchor="start" fill="#111" stroke="#111" stroke-width="0.12">Sun</text>
<text transform="translate(370.53 633.60) scale(0.88 1)" font-size="8.8" text-anchor="start" fill="#111" stroke="#111" stroke-width="0.12">Mon</text>
<text transform="translate(401.56 633.60) scale(0.88 1)" font-size="8.8" text-anchor="start" fill="#111" stroke="#111" stroke-width="0.12">Tue</text>
<text transform="translate(432.59 633.60) scale(0.88 1)" font-size="8.8" text-anchor="start" fill="#111" stroke="#111" stroke-width="0.12">Wed</text>
<text transform="translate(463.61 633.60) scale(0.88 1)" font-size="8.8" text-anchor="start" fill="#111" stroke="#111" stroke-width="0.12">Thu</text>
<text transform="translate(494.64 633.60) scale(0.88 1)" font-size="8.8" text-anchor="start" fill="#111" stroke="#111" stroke-width="0.12">Fri</text>
<text transform="translate(525.67 633.60) scale(0.88 1)" font-size="8.8" text-anchor="start" fill="#111" stroke="#111" stroke-width="0.12">Sat</text>
<text x="330" y="458.4" font-size="12" font-weight="350" fill="#000">每周的损益</text>
<rect x="370.83" y="479.60" width="6.90" height="141.80" fill="url(#gBl)" stroke="#6f8fe0" stroke-width="0.9"/>
<rect x="401.86" y="468.00" width="6.90" height="153.40" fill="url(#gBl)" stroke="#6f8fe0" stroke-width="0.9"/>
<rect x="432.89" y="530.60" width="6.90" height="90.80" fill="url(#gBl)" stroke="#6f8fe0" stroke-width="0.9"/>
<rect x="463.91" y="517.90" width="6.90" height="103.50" fill="url(#gBl)" stroke="#6f8fe0" stroke-width="0.9"/>
<rect x="494.94" y="506.10" width="6.90" height="115.30" fill="url(#gBl)" stroke="#6f8fe0" stroke-width="0.9"/>
<rect x="378.53" y="578.60" width="6.90" height="42.80" fill="url(#gLs)" stroke="#e87a58" stroke-width="0.9"/>
<rect x="409.56" y="574.00" width="6.90" height="47.40" fill="url(#gLs)" stroke="#e87a58" stroke-width="0.9"/>
<rect x="440.59" y="575.60" width="6.90" height="45.80" fill="url(#gLs)" stroke="#e87a58" stroke-width="0.9"/>
<rect x="471.61" y="548.40" width="6.90" height="73.00" fill="url(#gLs)" stroke="#e87a58" stroke-width="0.9"/>
<rect x="502.64" y="581.40" width="6.90" height="40.00" fill="url(#gLs)" stroke="#e87a58" stroke-width="0.9"/>
<path d="M614.20 465.40H848.40" stroke="#a2a2a2" stroke-width="1.0"/>
<path d="M614.20 484.90H848.40" stroke="#cecece" stroke-width="1.5"/>
<path d="M614.20 504.40H848.40" stroke="#a2a2a2" stroke-width="1.0"/>
<path d="M614.20 523.90H848.40" stroke="#cecece" stroke-width="1.5"/>
<path d="M614.20 543.40H848.40" stroke="#a2a2a2" stroke-width="1.0"/>
<path d="M614.20 562.90H848.40" stroke="#cecece" stroke-width="1.5"/>
<path d="M614.20 582.40H848.40" stroke="#a2a2a2" stroke-width="1.0"/>
<path d="M614.20 601.90H848.40" stroke="#cecece" stroke-width="1.5"/>
<path d="M614.20 621.40H848.40" stroke="#a2a2a2" stroke-width="1.0"/>
<path d="M619.50 465.40V626.70" stroke="#a2a2a2" stroke-width="1"/>
<path d="M638.53 621.40v5.3M657.57 621.40v5.3M676.60 621.40v5.3M695.63 621.40v5.3M714.67 621.40v5.3M733.70 621.40v5.3M752.73 621.40v5.3M771.77 621.40v5.3M790.80 621.40v5.3M809.83 621.40v5.3M828.87 621.40v5.3" stroke="#a2a2a2" stroke-width="1"/>
<text transform="translate(609.30 623.30) scale(0.88 1)" font-size="8.8" text-anchor="end" fill="#111" stroke="#111" stroke-width="0.12">0</text>
<text x="607.60" y="584.30" font-size="8.8" text-anchor="end" textLength="16.8" lengthAdjust="spacingAndGlyphs" fill="#111" stroke="#111" stroke-width="0.12">3750</text>
<text x="607.60" y="545.30" font-size="8.8" text-anchor="end" textLength="16.8" lengthAdjust="spacingAndGlyphs" fill="#111" stroke="#111" stroke-width="0.12">7500</text>
<text x="607.30" y="506.30" font-size="8.8" text-anchor="end" textLength="19.8" lengthAdjust="spacingAndGlyphs" fill="#111" stroke="#111" stroke-width="0.12">11250</text>
<text x="607.30" y="467.30" font-size="8.8" text-anchor="end" textLength="19.8" lengthAdjust="spacingAndGlyphs" fill="#111" stroke="#111" stroke-width="0.12">15000</text>
<text transform="translate(623.90 633.60) scale(0.92 1)" font-size="8.8" text-anchor="start" fill="#111" stroke="#111" stroke-width="0.12">Jan</text>
<text transform="translate(642.93 633.60) scale(0.92 1)" font-size="8.8" text-anchor="start" fill="#111" stroke="#111" stroke-width="0.12">Feb</text>
<text transform="translate(661.97 633.60) scale(0.92 1)" font-size="8.8" text-anchor="start" fill="#111" stroke="#111" stroke-width="0.12">Mar</text>
<text transform="translate(681.00 633.60) scale(0.92 1)" font-size="8.8" text-anchor="start" fill="#111" stroke="#111" stroke-width="0.12">Apr</text>
<text transform="translate(700.03 633.60) scale(0.92 1)" font-size="8.8" text-anchor="start" fill="#111" stroke="#111" stroke-width="0.12">May</text>
<text transform="translate(719.07 633.60) scale(0.92 1)" font-size="8.8" text-anchor="start" fill="#111" stroke="#111" stroke-width="0.12">Jun</text>
<text transform="translate(738.10 633.60) scale(0.92 1)" font-size="8.8" text-anchor="start" fill="#111" stroke="#111" stroke-width="0.12">Jul</text>
<text transform="translate(757.13 633.60) scale(0.92 1)" font-size="8.8" text-anchor="start" fill="#111" stroke="#111" stroke-width="0.12">Aug</text>
<text transform="translate(776.17 633.60) scale(0.92 1)" font-size="8.8" text-anchor="start" fill="#111" stroke="#111" stroke-width="0.12">Sep</text>
<text transform="translate(795.20 633.60) scale(0.92 1)" font-size="8.8" text-anchor="start" fill="#111" stroke="#111" stroke-width="0.12">Oct</text>
<text transform="translate(814.23 633.60) scale(0.92 1)" font-size="8.8" text-anchor="start" fill="#111" stroke="#111" stroke-width="0.12">Nov</text>
<text transform="translate(833.27 633.60) scale(0.92 1)" font-size="8.8" text-anchor="start" fill="#111" stroke="#111" stroke-width="0.12">Dec</text>
<text x="617" y="458.4" font-size="12" font-weight="350" fill="#000">每月的损益</text>
<rect x="623.60" y="599.40" width="3.90" height="22.00" fill="url(#gBl)" stroke="#6f8fe0" stroke-width="0.9"/>
<rect x="642.63" y="539.50" width="3.90" height="81.90" fill="url(#gBl)" stroke="#6f8fe0" stroke-width="0.9"/>
<rect x="661.67" y="471.50" width="3.90" height="149.90" fill="url(#gBl)" stroke="#6f8fe0" stroke-width="0.9"/>
<rect x="680.70" y="556.30" width="3.90" height="65.10" fill="url(#gBl)" stroke="#6f8fe0" stroke-width="0.9"/>
<rect x="699.73" y="571.80" width="3.90" height="49.60" fill="url(#gBl)" stroke="#6f8fe0" stroke-width="0.9"/>
<rect x="718.77" y="607.20" width="3.90" height="14.20" fill="url(#gBl)" stroke="#6f8fe0" stroke-width="0.9"/>
<rect x="737.80" y="610.60" width="3.90" height="10.80" fill="url(#gBl)" stroke="#6f8fe0" stroke-width="0.9"/>
<rect x="756.83" y="569.80" width="3.90" height="51.60" fill="url(#gBl)" stroke="#6f8fe0" stroke-width="0.9"/>
<rect x="775.87" y="591.70" width="3.90" height="29.70" fill="url(#gBl)" stroke="#6f8fe0" stroke-width="0.9"/>
<rect x="794.90" y="515.40" width="3.90" height="106.00" fill="url(#gBl)" stroke="#6f8fe0" stroke-width="0.9"/>
<rect x="813.93" y="544.10" width="3.90" height="77.30" fill="url(#gBl)" stroke="#6f8fe0" stroke-width="0.9"/>
<rect x="832.97" y="595.40" width="3.90" height="26.00" fill="url(#gBl)" stroke="#6f8fe0" stroke-width="0.9"/>
<rect x="628.40" y="614.80" width="3.90" height="6.60" fill="url(#gLs)" stroke="#e87a58" stroke-width="0.9"/>
<rect x="647.43" y="601.70" width="3.90" height="19.70" fill="url(#gLs)" stroke="#e87a58" stroke-width="0.9"/>
<rect x="666.47" y="561.60" width="3.90" height="59.80" fill="url(#gLs)" stroke="#e87a58" stroke-width="0.9"/>
<rect x="685.50" y="602.80" width="3.90" height="18.60" fill="url(#gLs)" stroke="#e87a58" stroke-width="0.9"/>
<rect x="704.53" y="598.80" width="3.90" height="22.60" fill="url(#gLs)" stroke="#e87a58" stroke-width="0.9"/>
<rect x="723.57" y="616.40" width="3.90" height="5.00" fill="url(#gLs)" stroke="#e87a58" stroke-width="0.9"/>
<rect x="742.60" y="605.60" width="3.90" height="15.80" fill="url(#gLs)" stroke="#e87a58" stroke-width="0.9"/>
<rect x="761.63" y="583.20" width="3.90" height="38.20" fill="url(#gLs)" stroke="#e87a58" stroke-width="0.9"/>
<rect x="780.67" y="605.80" width="3.90" height="15.60" fill="url(#gLs)" stroke="#e87a58" stroke-width="0.9"/>
<rect x="799.70" y="591.70" width="3.90" height="29.70" fill="url(#gLs)" stroke="#e87a58" stroke-width="0.9"/>
<rect x="818.73" y="582.80" width="3.90" height="38.60" fill="url(#gLs)" stroke="#e87a58" stroke-width="0.9"/>
<rect x="837.77" y="613.30" width="3.90" height="8.10" fill="url(#gLs)" stroke="#e87a58" stroke-width="0.9"/>
</g>
<g font-family='"Liberation Sans", "Noto Sans CJK SC", sans-serif'>
<text x="34" y="679.8" font-size="10.6" textLength="94.6" lengthAdjust="spacingAndGlyphs" fill="#000">相关性 (盈利, MFE):</text>
<text x="250.4" y="679.3" font-size="10.4" text-anchor="end" font-weight="bold" textLength="24.3" lengthAdjust="spacingAndGlyphs" fill="#000">0.78</text>
<text x="318" y="679.8" font-size="10.6" textLength="95.6" lengthAdjust="spacingAndGlyphs" fill="#000">相关性 (盈利, MAE):</text>
<text x="556.7" y="679.3" font-size="10.4" text-anchor="end" font-weight="bold" textLength="23.7" lengthAdjust="spacingAndGlyphs" fill="#000">0.02</text>
<text x="630" y="679.8" font-size="10.6" textLength="90.6" lengthAdjust="spacingAndGlyphs" fill="#000">相关性 (MFE,MAE):</text>
<text x="863.7" y="679.3" font-size="10.4" text-anchor="end" font-weight="bold" textLength="41.8" lengthAdjust="spacingAndGlyphs" fill="#000">-0.4585</text>
</g>
</svg></body></html>
